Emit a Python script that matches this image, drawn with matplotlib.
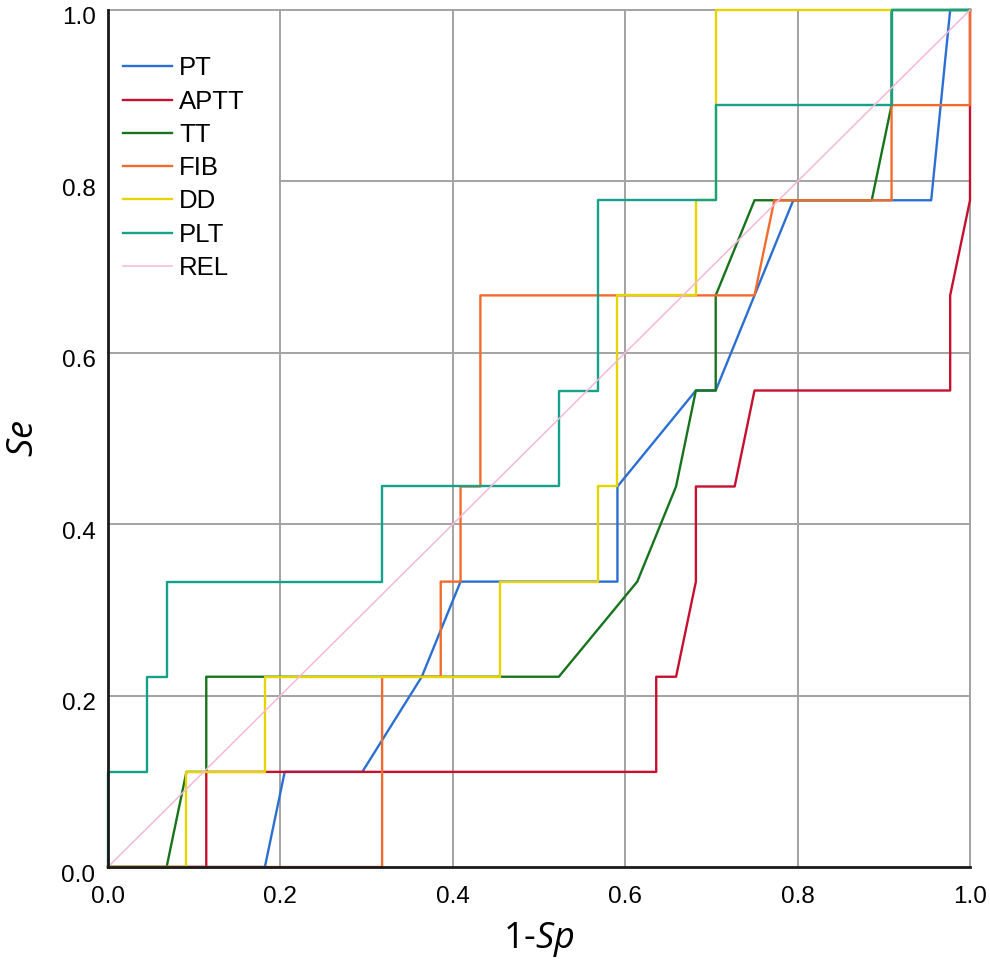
import matplotlib
matplotlib.use('Agg')
import matplotlib.pyplot as plt
import matplotlib.transforms as mtransforms

plt.rcParams['font.family'] = ['Liberation Sans', 'DejaVu Sans']
plt.rcParams['mathtext.fontset'] = 'custom'
plt.rcParams['mathtext.rm'] = 'Open Sans'
plt.rcParams['mathtext.it'] = 'Open Sans:italic'

# ROC curves (1-Sp, Se)
pt_x = [0, 0.182, 0.205, 0.295, 0.364, 0.409, 0.591, 0.591, 0.682, 0.705, 0.795, 0.955, 0.977, 1.0]
pt_y = [0, 0, 0.111, 0.111, 0.222, 0.333, 0.333, 0.444, 0.556, 0.556, 0.778, 0.778, 1.0, 1.0]

aptt_x = [0, 0.114, 0.114, 0.636, 0.636, 0.659, 0.682, 0.682, 0.727, 0.75, 0.977, 0.977, 1.0, 1.0]
aptt_y = [0, 0, 0.111, 0.111, 0.222, 0.222, 0.333, 0.444, 0.444, 0.556, 0.556, 0.667, 0.778, 1.0]

tt_x = [0, 0.068, 0.091, 0.114, 0.114, 0.523, 0.614, 0.659, 0.682, 0.705, 0.705, 0.75, 0.886, 0.909, 0.909, 1.0]
tt_y = [0, 0, 0.111, 0.111, 0.222, 0.222, 0.333, 0.444, 0.556, 0.556, 0.667, 0.778, 0.778, 0.889, 1.0, 1.0]

fib_x = [0, 0.318, 0.318, 0.386, 0.386, 0.409, 0.409, 0.432, 0.432, 0.75, 0.773, 0.909, 0.909, 1.0, 1.0]
fib_y = [0, 0, 0.222, 0.222, 0.333, 0.333, 0.444, 0.444, 0.667, 0.667, 0.778, 0.778, 0.889, 0.889, 1.0]

dd_x = [0, 0.091, 0.091, 0.182, 0.182, 0.455, 0.455, 0.568, 0.568, 0.591, 0.591, 0.682, 0.682, 0.705, 0.705, 1.0]
dd_y = [0, 0, 0.111, 0.111, 0.222, 0.222, 0.333, 0.333, 0.444, 0.444, 0.667, 0.667, 0.778, 0.778, 1.0, 1.0]

plt_x = [0, 0, 0.045, 0.045, 0.068, 0.068, 0.318, 0.318, 0.523, 0.523, 0.568, 0.568, 0.705, 0.705, 0.909, 0.909, 1.0]
plt_y = [0, 0.111, 0.111, 0.222, 0.222, 0.333, 0.333, 0.444, 0.444, 0.556, 0.556, 0.778, 0.778, 0.889, 0.889, 1.0, 1.0]

rel_x = [0, 1.0]
rel_y = [0, 1.0]

ticks = [0.0, 0.2, 0.4, 0.6, 0.8, 1.0]
tick_labels = ['0.0', '0.2', '0.4', '0.6', '0.8', '1.0']

curves = [
    ('PT', pt_x, pt_y, '#2b6fd2', 1.7),
    ('APTT', aptt_x, aptt_y, '#c5102f', 1.7),
    ('TT', tt_x, tt_y, '#17731c', 1.7),
    ('FIB', fib_x, fib_y, '#f26b2c', 1.7),
    ('DD', dd_x, dd_y, '#e6d400', 1.7),
    ('PLT', plt_x, plt_y, '#15a08a', 1.7),
    ('REL', rel_x, rel_y, '#f4b8d8', 1.1),
]

fig = plt.figure(figsize=(9.90, 9.67), dpi=100)
ax = fig.add_axes([108 / 990, 100 / 967, 862 / 990, 857 / 967])

# grid (the 0.8 line starts at 0.2 in the original)
grid_kw = dict(color='#a3a3a3', lw=1.4, zorder=0, clip_on=False)
for v in [0.2, 0.4, 0.6, 0.8, 1.0]:
    ax.axvline(v, **grid_kw)
for h in [0.2, 0.4, 0.6, 1.0]:
    ax.axhline(h, **grid_kw)
ax.axhline(0.8, xmin=0.2, **grid_kw)

for name, xs, ys, col, lw in curves:
    ax.plot(xs, ys, color=col, lw=lw, label=name, clip_on=False, zorder=2)

ax.set_xlim(0, 1)
ax.set_ylim(0, 1)
ax.set_xticks(ticks)
ax.set_xticklabels(tick_labels)
ax.set_yticks(ticks)
ax.set_yticklabels(tick_labels)
ax.tick_params(length=0, labelsize=17.5)
ax.tick_params(axis='x', pad=14)
ax.tick_params(axis='y', pad=9)
shift = mtransforms.ScaledTranslation(0, -6 / 100, fig.dpi_scale_trans)
for lab in ax.get_yticklabels():
    lab.set_transform(lab.get_transform() + shift)

for s in ['top', 'right']:
    ax.spines[s].set_visible(False)
for s in ['left', 'bottom']:
    ax.spines[s].set_color('#1a1a1a')
    ax.spines[s].set_linewidth(2)
    ax.spines[s].set_zorder(3)

ax.set_xlabel('1-$Sp$', fontsize=26, family='Open Sans', labelpad=8)
ax.set_ylabel('$Se$', fontsize=26, family='Open Sans', labelpad=14)

ax.legend(loc='upper left', bbox_to_anchor=(0.0174, 0.946), frameon=False,
          fontsize=18.5, handlelength=1.9, handletextpad=0.28, labelspacing=0.36,
          borderaxespad=0, borderpad=0)

fig.savefig('out.png', dpi=100)
